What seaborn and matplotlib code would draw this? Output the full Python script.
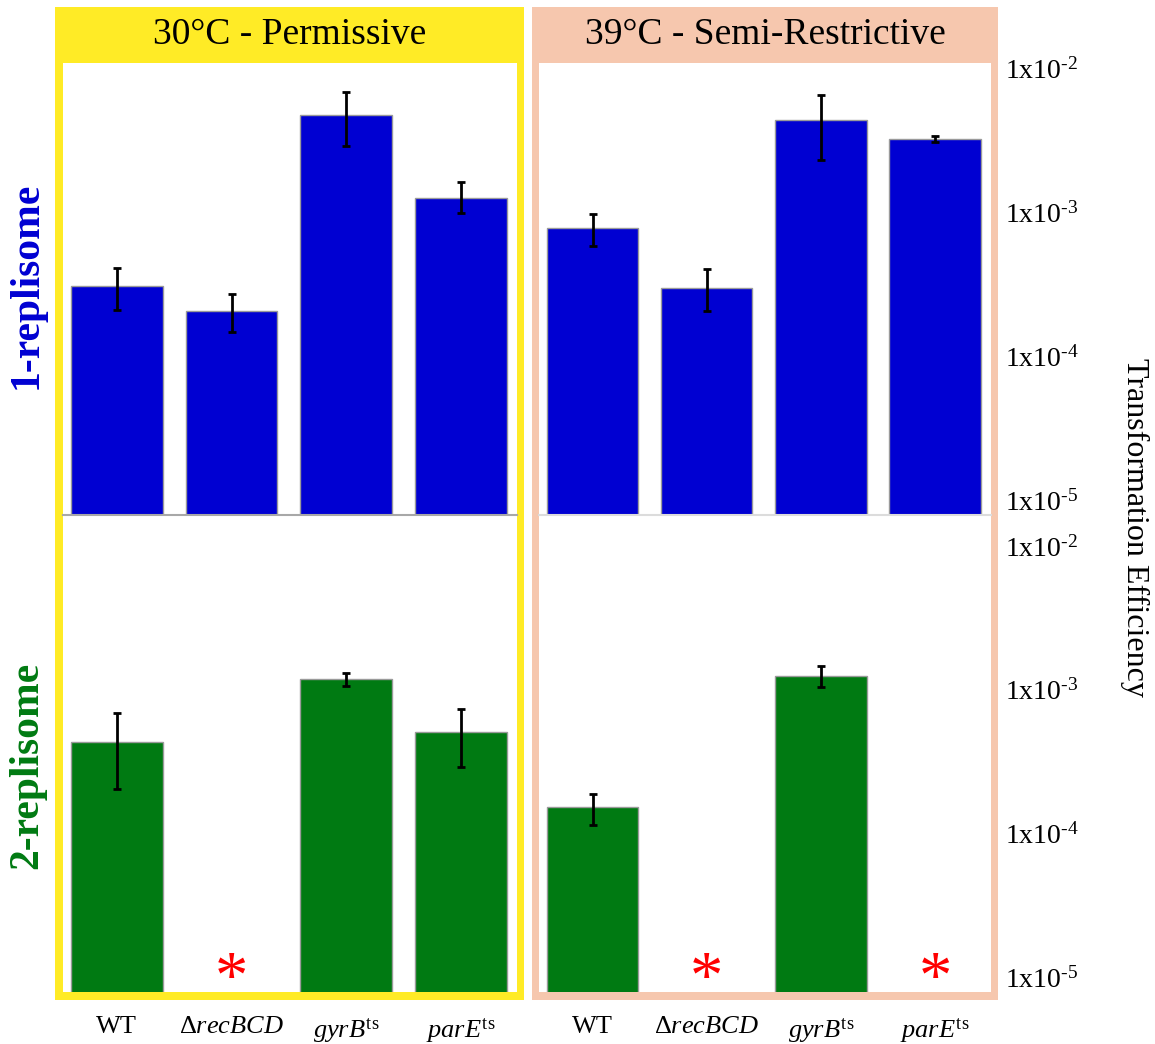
import numpy as np
import pandas as pd
import matplotlib
matplotlib.use("Agg")
import matplotlib.pyplot as plt
import matplotlib.transforms as mtransforms
from matplotlib.patches import Rectangle
from matplotlib.ticker import NullLocator
import seaborn as sns

# ---------------------------------------------------------------- data
strains = ["WT", "dRecBCD", "gyrB_ts", "parE_ts"]
strain_labels = ["WT", r"$\Delta\mathit{recBCD}$",
                 r"$\mathit{gyrB}^{\mathrm{ts}}$", r"$\mathit{parE}^{\mathrm{ts}}$"]
conditions = ["30°C - Permissive", "39°C - Semi-Restrictive"]
replisomes = ["1-replisome", "2-replisome"]

# mean efficiency and error-bar bounds (NaN = no transformants)
eff_1rep_30 = [3.9e-4, 2.6e-4, 6.0e-3, 1.6e-3]
lo_1rep_30 = [2.65e-4, 1.86e-4, 3.63e-3, 1.26e-3]
hi_1rep_30 = [5.2e-4, 3.4e-4, 8.7e-3, 2.04e-3]

eff_1rep_39 = [9.8e-4, 3.8e-4, 5.5e-3, 4.1e-3]
lo_1rep_39 = [7.4e-4, 2.6e-4, 2.9e-3, 3.9e-3]
hi_1rep_39 = [1.23e-3, 5.1e-4, 8.3e-3, 4.27e-3]

eff_2rep_30 = [5.5e-4, np.nan, 1.5e-3, 6.4e-4]
lo_2rep_30 = [2.57e-4, np.nan, 1.35e-3, 3.7e-4]
hi_2rep_30 = [8.7e-4, np.nan, 1.66e-3, 9.3e-4]

eff_2rep_39 = [1.94e-4, np.nan, 1.58e-3, np.nan]
lo_2rep_39 = [1.45e-4, np.nan, 1.32e-3, np.nan]
hi_2rep_39 = [2.4e-4, np.nan, 1.86e-3, np.nan]

ytick_values = [1e-5, 1e-4, 1e-3, 1e-2]
ytick_labels = [r"1x10$^{\text{-5}}$", r"1x10$^{\text{-4}}$",
                r"1x10$^{\text{-3}}$", r"1x10$^{\text{-2}}$"]

panels = {
    ("1-replisome", "30°C - Permissive"): (eff_1rep_30, lo_1rep_30, hi_1rep_30),
    ("1-replisome", "39°C - Semi-Restrictive"): (eff_1rep_39, lo_1rep_39, hi_1rep_39),
    ("2-replisome", "30°C - Permissive"): (eff_2rep_30, lo_2rep_30, hi_2rep_30),
    ("2-replisome", "39°C - Semi-Restrictive"): (eff_2rep_39, lo_2rep_39, hi_2rep_39),
}
rows = []
for (rep, cond), (e, lo, hi) in panels.items():
    for s, ev, lv, hv in zip(strains, e, lo, hi):
        rows.append(dict(replisome=rep, condition=cond, strain=s,
                         efficiency=ev, low=lv, high=hv))
df = pd.DataFrame(rows)

# ---------------------------------------------------------------- style
sns.set_style("white")
plt.rcParams["font.family"] = ["Liberation Serif", "DejaVu Serif"]
plt.rcParams["mathtext.fontset"] = "custom"
plt.rcParams["mathtext.rm"] = "Liberation Serif"
plt.rcParams["mathtext.it"] = "Liberation Serif:italic"
plt.rcParams["mathtext.bf"] = "Liberation Serif:bold"
plt.rcParams["text.color"] = "black"
plt.rcParams["xtick.color"] = "black"
plt.rcParams["ytick.color"] = "black"

W, H = 1155, 1044
fig = plt.figure(figsize=(W / 100, H / 100), dpi=100)
fig.patch.set_facecolor("white")


def fbox(x0, y0, x1, y1):
    return [x0 / W, 1 - y1 / H, (x1 - x0) / W, (y1 - y0) / H]


def frame(x0, y0, x1, y1, color, z):
    l, b, w, h = fbox(x0, y0, x1, y1)
    fig.patches.append(Rectangle((l, b), w, h, transform=fig.transFigure,
                                 facecolor=color, edgecolor="none", zorder=z))


frame_colors = {"30°C - Permissive": "#FFEB26", "39°C - Semi-Restrictive": "#F6C7AE"}
frame_px = {"30°C - Permissive": (55, 7, 524, 1000),
            "39°C - Semi-Restrictive": (532, 7, 998, 1000)}
inner_px = {"30°C - Permissive": (63, 63, 517, 992),
            "39°C - Semi-Restrictive": (539, 63, 991, 992)}

for cond in conditions:
    frame(*frame_px[cond], frame_colors[cond], -3)
    frame(*inner_px[cond], "white", -2)
    x0, y0, x1, y1 = frame_px[cond]
    fig.text((x0 + x1) / 2 / W, 1 - 35 / H, cond, ha="center", va="center",
             fontsize=27)

row_px = {"1-replisome": (63, 515), "2-replisome": (515, 992)}
row_ylim = {"1-replisome": (1e-5, 10 ** -1.861), "2-replisome": (1e-5, 10 ** -1.68)}
bar_colors = {"1-replisome": "#0000D2", "2-replisome": "#007A12"}
base_colors = {"30°C - Permissive": "#A8A8A8", "39°C - Semi-Restrictive": "#DCDCDC"}

label_offset = mtransforms.ScaledTranslation(0, 15 / 100, fig.dpi_scale_trans)

for rep in replisomes:
    for ci, cond in enumerate(conditions):
        ix0, _, ix1, _ = inner_px[cond]
        ry0, ry1 = row_px[rep]
        ax = fig.add_axes(fbox(ix0, ry0, ix1, ry1))
        ax.set_facecolor("none")
        sub = df[(df.replisome == rep) & (df.condition == cond)]
        sns.barplot(data=sub.dropna(), x="strain", y="efficiency", order=strains,
                    color=bar_colors[rep], saturation=1, width=0.8,
                    edgecolor="#9A9A9A", linewidth=1.0, errorbar=None, ax=ax)
        # log axis that clips the zero-based bar bottoms instead of masking them
        ax.set_yscale("log", nonpositive="clip")
        pos = np.array([strains.index(s) for s in sub.strain])
        e = sub.efficiency.values
        ax.errorbar(pos, e, yerr=[e - sub.low.values, sub.high.values - e],
                    fmt="none", ecolor="black", elinewidth=2, capsize=3,
                    capthick=2, zorder=5)
        # missing strains marked with a red asterisk
        for p, v in zip(pos, e):
            if np.isnan(v):
                ax.text(p, 1e-5, "*", color="red", ha="center", va="baseline",
                        fontsize=48,
                        transform=ax.transData + mtransforms.ScaledTranslation(
                            0, -5 / 100, fig.dpi_scale_trans))
        ax.set_xlim(-0.47, 3.49)
        ax.set_ylim(*row_ylim[rep])
        ax.yaxis.set_minor_locator(NullLocator())
        ax.set_xlabel("")
        ax.set_ylabel("")
        for sp in ax.spines.values():
            sp.set_visible(False)
        if rep == "1-replisome":
            ax.spines["bottom"].set_visible(True)
            ax.spines["bottom"].set_color(base_colors[cond])
            ax.spines["bottom"].set_linewidth(1.5)
            ax.set_xticks([])
        else:
            ax.set_xticks(range(len(strains)))
            ax.set_xticklabels(strain_labels, fontsize=19)
            ax.tick_params(axis="x", length=0, pad=17)
        if ci == 1:
            ax.yaxis.tick_right()
            ax.set_yticks(ytick_values)
            ax.set_yticklabels(ytick_labels, fontsize=20)
            ax.tick_params(axis="y", length=0, pad=10)
            for lab in ax.get_yticklabels():
                lab.set_transform(lab.get_transform() + label_offset)
        else:
            ax.set_yticks([])

fig.text(27 / W, 1 - 285 / H, "1-replisome", rotation=90, ha="center",
         va="center", fontsize=30, fontweight="bold", color=bar_colors["1-replisome"])
fig.text(27 / W, 1 - 765 / H, "2-replisome", rotation=90, ha="center",
         va="center", fontsize=30, fontweight="bold", color=bar_colors["2-replisome"])
fig.text(1135 / W, 1 - 527 / H, "Transformation Efficiency", rotation=270,
         ha="center", va="center", fontsize=23)

fig.savefig("out.png", dpi=100)
